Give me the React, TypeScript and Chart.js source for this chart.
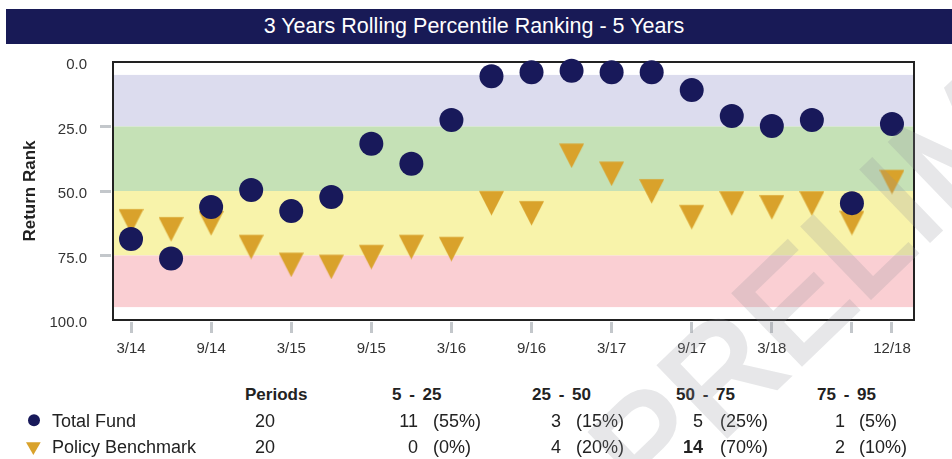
import React, { useEffect, useRef } from 'react';
import { Chart, registerables } from 'chart.js';

Chart.register(...registerables);

const FONT = '"Liberation Sans", Arial, Helvetica, sans-serif';

const quarters = ['3/14', '6/14', '9/14', '12/14', '3/15', '6/15', '9/15', '12/15', '3/16', '6/16', '9/16', '12/16', '3/17', '6/17', '9/17', '12/17', '3/18', '6/18', '9/18', '12/18'];
const totalFund = [68.6, 76.2, 56.2, 49.6, 57.8, 52.3, 31.7, 39.4, 22.5, 5.5, 4.0, 3.4, 4.0, 4.0, 10.9, 20.9, 24.8, 22.5, 54.7, 24.0];
const policyBenchmark = [60.2, 63.3, 61.0, 70.2, 77.1, 77.9, 74.1, 70.2, 71.0, 53.2, 57.1, 34.8, 41.8, 48.6, 58.6, 53.3, 54.8, 53.3, 60.9, 45.0];

const yTicks = [0, 25, 50, 75, 100];
const xTickIndices = [0, 2, 4, 6, 8, 10, 12, 14, 16, 18, 19];
const hiddenXLabels = ['9/18'];
const bandEdges = [5, 25, 50, 75, 95];
const bandColors = ['#dcdcee', '#c5e1b6', '#f8f3aa', '#facfd3'];

const tableHeaders = ['Periods', '5 - 25', '25 - 50', '50 - 75', '75 - 95'];
const seriesNames = ['Total Fund', 'Policy Benchmark'];
const periods = [20, 20];
const fundCounts = [11, 3, 5, 1];
const fundPcts = [55, 15, 25, 5];
const benchCounts = [0, 4, 14, 2];
const benchPcts = [0, 20, 70, 10];
const boldCells = [[false, false, false, false], [false, false, true, false]];

const NAVY = '#18195a';
const GOLD = '#d9a22b';
const TEXT = '#222222';
const TICK_GRAY = '#c3c7cb';

function makeTriangle(): HTMLCanvasElement {
  const c = document.createElement('canvas');
  c.width = 25;
  c.height = 33;
  const ctx = c.getContext('2d')!;
  ctx.fillStyle = GOLD;
  ctx.beginPath();
  ctx.moveTo(0, 8.3);
  ctx.lineTo(25, 8.3);
  ctx.lineTo(12.5, 32.8);
  ctx.closePath();
  ctx.fill();
  return c;
}

const bandsPlugin = {
  id: 'bands',
  beforeDatasetsDraw(chart: any) {
    const { ctx, chartArea, scales } = chart;
    const y = scales.y;
    ctx.save();
    for (let i = 0; i < bandColors.length; i++) {
      const y1 = y.getPixelForValue(bandEdges[i]);
      const y2 = y.getPixelForValue(bandEdges[i + 1]);
      ctx.fillStyle = bandColors[i];
      ctx.fillRect(chartArea.left, Math.min(y1, y2), chartArea.right - chartArea.left, Math.abs(y2 - y1));
    }
    ctx.strokeStyle = '#222';
    ctx.lineWidth = 2;
    ctx.strokeRect(chartArea.left, chartArea.top, chartArea.right - chartArea.left, chartArea.bottom - chartArea.top);
    ctx.restore();
  },
};

function ChartCanvas() {
  const ref = useRef<HTMLCanvasElement | null>(null);
  useEffect(() => {
    if (!ref.current) return;
    const tri = makeTriangle();
    const chart = new Chart(ref.current, {
      type: 'scatter',
      data: {
        datasets: [
          {
            label: seriesNames[0],
            data: totalFund.map((v, i) => ({ x: i, y: v })),
            pointStyle: 'circle',
            pointRadius: 12,
            pointHoverRadius: 12,
            backgroundColor: NAVY,
            borderWidth: 0,
            clip: false,
          } as any,
          {
            label: seriesNames[1],
            data: policyBenchmark.map((v, i) => ({ x: i, y: v })),
            pointStyle: tri,
            pointRadius: 12,
            pointHoverRadius: 12,
            backgroundColor: GOLD,
            borderWidth: 0,
            clip: false,
          } as any,
        ],
      },
      options: {
        animation: false,
        responsive: false,
        events: [],
        layout: { padding: { top: 14, right: 38, left: 0, bottom: 0 } },
        plugins: { legend: { display: false }, tooltip: { enabled: false } },
        scales: {
          x: {
            type: 'linear',
            min: -0.45,
            max: 19.55,
            bounds: 'data',
            afterBuildTicks: (scale: any) => {
              scale.ticks = xTickIndices.map((v) => ({ value: v }));
            },
            afterFit: (scale: any) => {
              scale.height = 48;
              scale.paddingLeft = 0;
              scale.paddingRight = 0;
            },
            grid: { drawOnChartArea: false, drawTicks: true, tickLength: 13, tickWidth: 3, tickColor: TICK_GRAY },
            border: { display: true, width: 4, color: 'rgba(0,0,0,0)' },
            ticks: {
              padding: 7,
              maxRotation: 0,
              autoSkip: false,
              color: '#333',
              font: { family: FONT, size: 15 },
              callback: (v: any) => {
                const lab = quarters[Math.round(v)];
                return hiddenXLabels.includes(lab) ? '' : lab;
              },
            },
          },
          y: {
            type: 'linear',
            reverse: true,
            min: 0,
            max: 100,
            afterBuildTicks: (scale: any) => {
              scale.ticks = yTicks.map((v) => ({ value: v }));
            },
            afterFit: (scale: any) => {
              scale.width = 113;
              scale.paddingTop = 0;
              scale.paddingBottom = 0;
            },
            grid: {
              drawOnChartArea: false,
              drawTicks: true,
              tickLength: 13,
              tickWidth: 3,
              tickColor: (ctx: any) => (ctx.tick && (ctx.tick.value === 0 || ctx.tick.value === 100) ? 'rgba(0,0,0,0)' : TICK_GRAY),
            },
            border: { display: true, width: 4, color: 'rgba(0,0,0,0)' },
            ticks: {
              padding: 13,
              labelOffset: 3,
              color: '#333',
              font: { family: FONT, size: 15 },
              callback: (v: any) => Number(v).toFixed(1),
            },
            title: {
              display: true,
              text: 'Return Rank',
              color: TEXT,
              font: { family: FONT, size: 17, weight: 'bold' },
              padding: { top: 20, bottom: 0 },
            },
          },
        },
      } as any,
      plugins: [bandsPlugin],
    });
    return () => chart.destroy();
  }, []);
  return (
    <canvas
      ref={ref}
      width={952}
      height={320}
      style={{ position: 'absolute', left: 0, top: 48, width: 952, height: 320 }}
    />
  );
}

const cellStyle = (left: number, top: number, bold = false, align: 'left' | 'right' = 'left'): React.CSSProperties => ({
  position: 'absolute',
  top,
  ...(align === 'left' ? { left } : { right: 952 - left }),
  fontFamily: FONT,
  fontSize: 18,
  lineHeight: '20px',
  fontWeight: bold ? 'bold' : 'normal',
  color: TEXT,
  whiteSpace: 'pre',
});

export default function App() {
  const headerLefts = [245, 392, 532, 676, 817];
  const countRights = [418, 561, 703, 845];
  const pctLefts = [433, 576, 720, 859];
  const rowTops = [410.5, 436.5];
  const rows = [
    { counts: fundCounts, pcts: fundPcts },
    { counts: benchCounts, pcts: benchPcts },
  ];
  return (
    <div style={{ position: 'absolute', left: 0, top: 0, width: 952, height: 459, overflow: 'hidden', background: '#fff' }}>
      <div style={{ position: 'absolute', left: 6, top: 9, width: 946, height: 35, background: '#181a56' }} />
      <div
        style={{
          position: 'absolute',
          left: 0,
          width: 948,
          top: 14,
          textAlign: 'center',
          color: '#fff',
          fontFamily: FONT,
          fontSize: 21.5,
          lineHeight: '24px',
          whiteSpace: 'pre',
        }}
      >
        3 Years Rolling Percentile Ranking - 5 Years
      </div>
      <ChartCanvas />
      {tableHeaders.map((h, i) => (
        <div key={h} style={{ ...cellStyle(headerLefts[i], 385, true), fontSize: 17, wordSpacing: i > 0 ? 3 : 0 }}>
          {h}
        </div>
      ))}
      <svg width={952} height={459} style={{ position: 'absolute', left: 0, top: 0 }}>
        <circle cx={34} cy={420.3} r={6} fill={NAVY} />
        <polygon points="26,442.3 40.7,442.3 33.35,455" fill={GOLD} />
      </svg>
      {rows.map((r, ri) => (
        <React.Fragment key={ri}>
          <div style={cellStyle(52, rowTops[ri])}>{seriesNames[ri]}</div>
          <div style={cellStyle(255, rowTops[ri])}>{String(periods[ri])}</div>
          {r.counts.map((c, ci) => (
            <React.Fragment key={ci}>
              <div style={cellStyle(countRights[ci], rowTops[ri], boldCells[ri][ci], 'right')}>{String(c)}</div>
              <div style={cellStyle(pctLefts[ci], rowTops[ri])}>{`(${r.pcts[ci]}%)`}</div>
            </React.Fragment>
          ))}
        </React.Fragment>
      ))}
      <svg width={952} height={459} style={{ position: 'absolute', left: 0, top: 0, pointerEvents: 'none' }}>
        <g opacity={0.22}>
          <text
            x={650}
            y={510}
            transform="rotate(-44 650 510)"
            fontFamily={FONT}
            fontSize={141}
            letterSpacing={2}
            fill="rgb(145,148,155)"
            stroke="rgb(145,148,155)"
            strokeWidth={5}
          >
            PRELIMINARY
          </text>
        </g>
      </svg>
    </div>
  );
}
